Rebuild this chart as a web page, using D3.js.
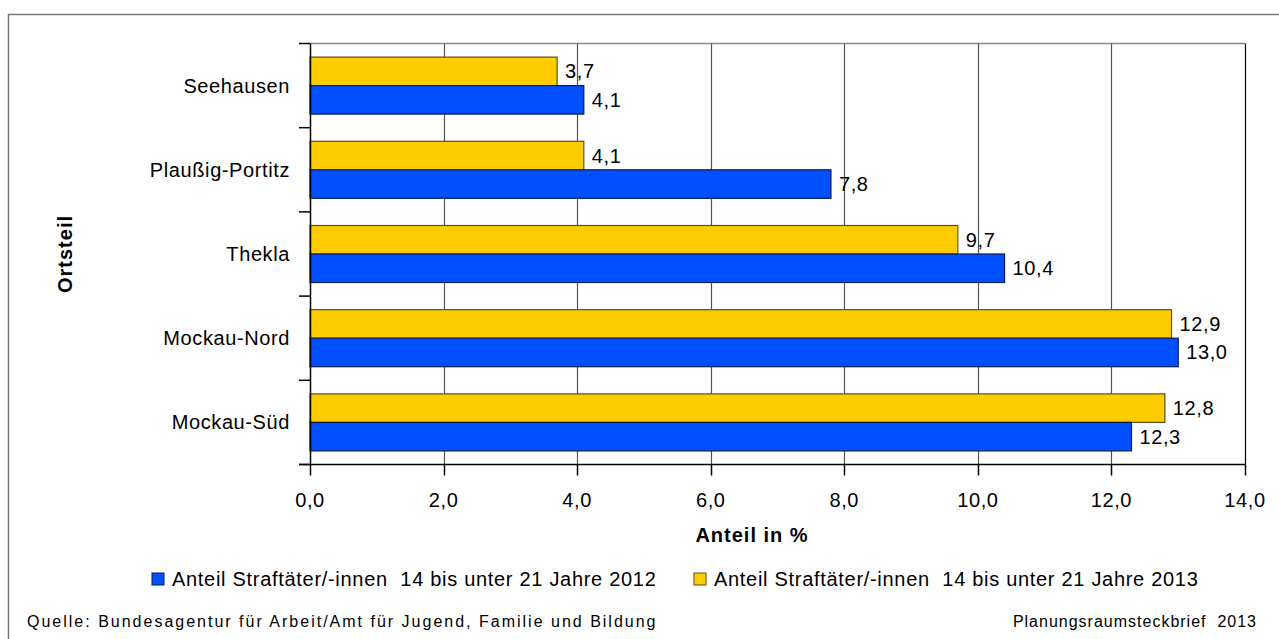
<!DOCTYPE html>
<html>
<head>
<meta charset="utf-8">
<script src="https://d3js.org/d3.v7.min.js"></script>
<style>
  body { margin: 0; background: #fff; }
  text { font-family: "Liberation Sans", Arial, sans-serif; fill: #000; }
</style>
</head>
<body>
<div id="viz"></div>
<script type="text/javascript">
    var categories = ["Seehausen", "Plaußig-Portitz", "Thekla", "Mockau-Nord", "Mockau-Süd"];
    var values2013 = [3.7, 4.1, 9.7, 12.9, 12.8];
    var values2012 = [4.1, 7.8, 10.4, 13.0, 12.3];
    var seriesNames = ["Anteil Straftäter/-innen  14 bis unter 21 Jahre 2012",
                       "Anteil Straftäter/-innen  14 bis unter 21 Jahre 2013"];
    var xTicks = [0, 2, 4, 6, 8, 10, 12, 14];

    var width = 1279, height = 639;
    var plot = { left: 310, right: 1245, top: 43.5, bottom: 464.5 };

    var svg = d3.select("#viz").append("svg")
        .attr("width", width)
        .attr("height", height);

    // outer frame (only top and left edges fall inside the picture)
    svg.append("rect")
        .attr("x", 8.5).attr("y", 14.5)
        .attr("width", 1400).attr("height", 800)
        .attr("fill", "none").attr("stroke", "#777").attr("stroke-width", 1.5);

    var x = d3.scaleLinear().domain([0, 14]).range([plot.left, plot.right]);
    var y = d3.scaleBand().domain(categories).range([plot.top, plot.bottom]).paddingInner(0).paddingOuter(0);
    var inner = d3.scaleBand().domain(["2013", "2012"]).range([0, y.bandwidth()]).paddingInner(0).paddingOuter(0.477);

    // top border + gridlines
    svg.append("line")
        .attr("x1", plot.left).attr("x2", plot.right)
        .attr("y1", plot.top).attr("y2", plot.top)
        .attr("stroke", "#888").attr("stroke-width", 1.5);

    svg.selectAll(".grid").data(xTicks.slice(1)).enter().append("line")
        .attr("class", "grid")
        .attr("x1", function(d){ return Math.round(x(d)) + 0.5; })
        .attr("x2", function(d){ return Math.round(x(d)) + 0.5; })
        .attr("y1", plot.top).attr("y2", plot.bottom)
        .attr("stroke", function(d){ return d === 14 ? "#000" : "#555"; })
        .attr("stroke-width", 1.2);

    var rows = [];
    categories.forEach(function(c, i){
        rows.push({ cat: c, s: "2013", v: values2013[i] });
        rows.push({ cat: c, s: "2012", v: values2012[i] });
    });

    var colors = { "2012": "#0050ff", "2013": "#ffcc00" };
    var strokes = { "2012": "#0a1a50", "2013": "#5a5020" };

    svg.selectAll(".bar").data(rows).enter().append("rect")
        .attr("class", "bar")
        .attr("x", x(0))
        .attr("y", function(d){ return y(d.cat) + inner(d.s); })
        .attr("width", function(d){ return x(d.v) - x(0); })
        .attr("height", inner.bandwidth())
        .attr("fill", function(d){ return colors[d.s]; })
        .attr("stroke", function(d){ return strokes[d.s]; })
        .attr("stroke-width", 1.2);

    var fmt = function(v){ return d3.format(".1f")(v).replace(".", ","); };

    svg.selectAll(".val").data(rows).enter().append("text")
        .attr("class", "val")
        .attr("x", function(d){ return x(d.v) + 8; })
        .attr("y", function(d){ return y(d.cat) + inner(d.s) + inner.bandwidth() / 2 + 7; })
        .style("font-size", "20px").style("letter-spacing", "0.6px")
        .text(function(d){ return fmt(d.v); });

    // y axis
    var yAxis = svg.append("g");
    yAxis.append("line")
        .attr("x1", plot.left + 0.5).attr("x2", plot.left + 0.5)
        .attr("y1", plot.top).attr("y2", plot.bottom)
        .attr("stroke", "#000").attr("stroke-width", 1.5);
    var yTickPos = categories.map(function(c){ return y(c); }).concat([plot.bottom]);
    yAxis.selectAll(".ytick").data(yTickPos).enter().append("line")
        .attr("x1", plot.left - 11).attr("x2", plot.left)
        .attr("y1", function(d){ return d; }).attr("y2", function(d){ return d; })
        .attr("stroke", "#000").attr("stroke-width", 1.5);
    yAxis.selectAll(".ylab").data(categories).enter().append("text")
        .attr("x", plot.left - 20)
        .attr("y", function(d){ return y(d) + y.bandwidth() / 2 + 7; })
        .attr("text-anchor", "end")
        .style("font-size", "20px").style("letter-spacing", "0.6px")
        .text(function(d){ return d; });

    // x axis
    var xAxis = svg.append("g");
    xAxis.append("line")
        .attr("x1", plot.left - 11).attr("x2", plot.right)
        .attr("y1", plot.bottom).attr("y2", plot.bottom)
        .attr("stroke", "#000").attr("stroke-width", 1.5);
    xAxis.selectAll(".xtick").data(xTicks).enter().append("line")
        .attr("x1", function(d){ return Math.round(x(d)) + 0.5; })
        .attr("x2", function(d){ return Math.round(x(d)) + 0.5; })
        .attr("y1", plot.bottom).attr("y2", plot.bottom + 11)
        .attr("stroke", "#000").attr("stroke-width", 1.5);
    xAxis.selectAll(".xlab").data(xTicks).enter().append("text")
        .attr("x", function(d){ return x(d); })
        .attr("y", 507)
        .attr("text-anchor", "middle")
        .style("font-size", "20px").style("letter-spacing", "0.6px")
        .text(function(d){ return fmt(d); });

    svg.append("text")
        .attr("x", 752).attr("y", 542)
        .attr("text-anchor", "middle")
        .style("font-size", "20px").style("font-weight", "bold").style("letter-spacing", "1px")
        .text("Anteil in %");

    svg.append("text")
        .attr("transform", "translate(72," + ((plot.top + plot.bottom) / 2) + ") rotate(-90)")
        .attr("text-anchor", "middle")
        .style("font-size", "20px").style("font-weight", "bold").style("letter-spacing", "1px")
        .text("Ortsteil");

    // legend
    var legendItems = [
        { name: seriesNames[0], color: colors["2012"], stroke: strokes["2012"], x: 152 },
        { name: seriesNames[1], color: colors["2013"], stroke: strokes["2013"], x: 694 }
    ];
    var lg = svg.selectAll(".lg").data(legendItems).enter().append("g")
        .attr("transform", function(d){ return "translate(" + d.x + ",573)"; });
    lg.append("rect")
        .attr("width", 12).attr("height", 12)
        .attr("fill", function(d){ return d.color; })
        .attr("stroke", function(d){ return d.stroke; });
    lg.append("text")
        .attr("x", 20).attr("y", 13)
        .style("font-size", "20px").style("letter-spacing", "0.7px")
        .attr("xml:space", "preserve")
        .text(function(d){ return d.name; });

    // footer
    svg.append("text")
        .attr("x", 27).attr("y", 627)
        .style("font-size", "16px").style("letter-spacing", "2px")
        .text("Quelle: Bundesagentur für Arbeit/Amt für Jugend, Familie und Bildung");
    svg.append("text")
        .attr("x", 1257).attr("y", 627)
        .attr("text-anchor", "end")
        .style("font-size", "16px").style("letter-spacing", "1px")
        .attr("xml:space", "preserve")
        .text("Planungsraumsteckbrief  2013");
</script>
</body>
</html>
